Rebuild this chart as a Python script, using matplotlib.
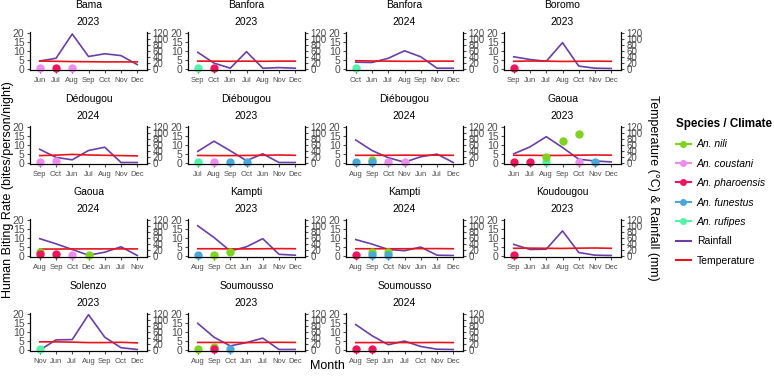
import matplotlib
matplotlib.use("Agg")
import matplotlib.pyplot as plt
from matplotlib.lines import Line2D

plt.rcParams["font.family"] = ["Liberation Sans", "DejaVu Sans"]

# one entry per facet: site, year, month order, rainfall (mm), temperature (degC)
SITES = ["Bama", "Banfora", "Banfora", "Boromo",
         "Dédougou", "Diébougou", "Diébougou", "Gaoua",
         "Gaoua", "Kampti", "Kampti", "Koudougou",
         "Solenzo", "Soumousso", "Soumousso"]
YEARS = ["2023", "2023", "2024", "2023",
         "2024", "2023", "2024", "2023",
         "2024", "2023", "2024", "2023",
         "2023", "2023", "2024"]
MONTHS = [
    ["Jun", "Jul", "Aug", "Sep", "Oct", "Nov", "Dec"],
    ["Sep", "Oct", "Jun", "Jul", "Aug", "Nov", "Dec"],
    ["Oct", "Jun", "Jul", "Aug", "Sep", "Nov", "Dec"],
    ["Sep", "Jun", "Jul", "Aug", "Oct", "Nov", "Dec"],
    ["Sep", "Oct", "Jun", "Jul", "Aug", "Nov", "Dec"],
    ["Jul", "Aug", "Sep", "Oct", "Jun", "Nov", "Dec"],
    ["Aug", "Sep", "Oct", "Nov", "Jun", "Jul", "Dec"],
    ["Jun", "Jul", "Aug", "Sep", "Oct", "Nov", "Dec"],
    ["Aug", "Sep", "Oct", "Dec", "Jun", "Jul", "Nov"],
    ["Aug", "Sep", "Oct", "Jun", "Jul", "Nov", "Dec"],
    ["Aug", "Sep", "Oct", "Nov", "Jun", "Jul", "Dec"],
    ["Sep", "Jun", "Jul", "Aug", "Oct", "Nov", "Dec"],
    ["Nov", "Jun", "Jul", "Aug", "Sep", "Oct", "Dec"],
    ["Aug", "Sep", "Oct", "Jun", "Jul", "Nov", "Dec"],
    ["Aug", "Sep", "Jun", "Jul", "Oct", "Nov", "Dec"],
]
RAINFALL = [
    [27, 36, 117, 42, 51, 45, 15],
    [56, 20, 3, 58, 3, 5, 3],
    [23, 22, 36, 61, 41, 3, 3],
    [41, 32, 26, 88, 10, 3, 2],
    [46, 19, 11, 42, 53, 2, 2],
    [39, 73, 41, 8, 31, 2, 2],
    [77, 42, 18, 3, 21, 30, 2],
    [31, 54, 88, 52, 13, 7, 4],
    [58, 41, 22, 3, 13, 31, 2],
    [101, 62, 17, 31, 58, 6, 3],
    [55, 40, 22, 18, 30, 3, 2],
    [39, 22, 23, 84, 12, 3, 2],
    [0, 34, 35, 118, 43, 8, 2],
    [89, 43, 14, 25, 40, 2, 2],
    [85, 48, 18, 30, 12, 3, 2],
]
TEMPERATURE = [
    [27.0, 26.0, 25.0, 24.6, 24.0, 24.0, 24.0],
    [26.5, 26.5, 26.0, 26.5, 26.0, 26.5, 26.5],
    [28.0, 27.0, 26.5, 26.0, 26.0, 26.5, 26.5],
    [26.0, 27.0, 26.5, 25.5, 26.0, 26.5, 26.0],
    [25.0, 26.5, 29.0, 27.0, 26.0, 25.0, 24.0],
    [25.5, 25.0, 25.0, 25.5, 26.0, 27.0, 26.0],
    [26.0, 26.0, 26.0, 26.5, 26.0, 26.5, 26.0],
    [26.0, 26.0, 25.5, 25.5, 26.5, 27.0, 26.5],
    [23.5, 23.5, 24.0, 24.0, 24.0, 24.0, 24.0],
    [24.5, 24.5, 24.0, 24.0, 24.5, 25.0, 24.5],
    [24.5, 24.5, 24.5, 24.5, 25.0, 25.0, 24.5],
    [26.0, 26.5, 26.0, 25.5, 26.5, 27.0, 26.0],
    [27.5, 27.5, 26.5, 25.0, 25.0, 26.0, 24.0],
    [25.5, 25.5, 25.5, 25.0, 25.5, 26.0, 25.5],
    [25.0, 25.0, 25.5, 25.0, 25.0, 25.5, 25.0],
]
# human biting rate points: (facet index, month, species, HBR)
HBR = [
    (0, "Jun", "An. coustani", 0.8), (0, "Jul", "An. pharoensis", 0.8),
    (0, "Aug", "An. coustani", 0.8),
    (1, "Sep", "An. rufipes", 0.8), (1, "Oct", "An. pharoensis", 0.8),
    (2, "Oct", "An. rufipes", 0.8),
    (3, "Sep", "An. pharoensis", 0.8),
    (4, "Sep", "An. coustani", 0.8), (4, "Oct", "An. coustani", 1.3),
    (5, "Jul", "An. rufipes", 0.8), (5, "Aug", "An. coustani", 0.8),
    (5, "Sep", "An. funestus", 0.8), (5, "Oct", "An. funestus", 0.8),
    (6, "Aug", "An. funestus", 0.8), (6, "Sep", "An. nili", 1.5),
    (6, "Sep", "An. funestus", 0.8), (6, "Oct", "An. coustani", 0.8),
    (6, "Nov", "An. coustani", 0.8),
    (7, "Jun", "An. pharoensis", 0.8), (7, "Jul", "An. pharoensis", 0.8),
    (7, "Aug", "An. rufipes", 0.8), (7, "Aug", "An. nili", 3.5),
    (7, "Sep", "An. nili", 12.3), (7, "Oct", "An. nili", 16.2),
    (7, "Oct", "An. coustani", 0.8), (7, "Nov", "An. funestus", 0.8),
    (8, "Aug", "An. nili", 2.5), (8, "Aug", "An. pharoensis", 0.9),
    (8, "Sep", "An. pharoensis", 0.9), (8, "Oct", "An. coustani", 0.8),
    (8, "Dec", "An. nili", 0.6),
    (9, "Aug", "An. funestus", 0.8), (9, "Sep", "An. nili", 0.8),
    (9, "Oct", "An. nili", 2.5),
    (10, "Aug", "An. pharoensis", 0.8), (10, "Sep", "An. nili", 2.0),
    (10, "Sep", "An. funestus", 0.8), (10, "Oct", "An. nili", 2.0),
    (10, "Oct", "An. funestus", 0.8),
    (11, "Sep", "An. pharoensis", 0.8),
    (12, "Nov", "An. rufipes", 0.8),
    (13, "Aug", "An. nili", 0.8), (13, "Sep", "An. nili", 1.5),
    (13, "Sep", "An. pharoensis", 0.8), (13, "Oct", "An. funestus", 0.8),
    (14, "Aug", "An. pharoensis", 0.8), (14, "Sep", "An. pharoensis", 0.8),
]

SPECIES = ["An. nili", "An. coustani", "An. pharoensis", "An. funestus", "An. rufipes"]
SP_COLORS = {"An. nili": "#7ED321", "An. coustani": "#EE8CEE",
             "An. pharoensis": "#F0145E", "An. funestus": "#4AA8D8",
             "An. rufipes": "#52F2A8"}
RAIN_COLOR = "#6A3FA8"
TEMP_COLOR = "#E8141C"
SCALE = 6  # secondary axis: mm / degC = 6 x left units
TXT = "#4d4d4d"

W, H = 774, 376
fig = plt.figure(figsize=(W / 100, H / 100), dpi=100)

lefts = [30, 188, 346, 504]
tops = [32, 126, 219, 313]
aw, ah = 117, 38

for i, (site, year) in enumerate(zip(SITES, YEARS)):
    r, c = divmod(i, 4)
    ax = fig.add_axes([lefts[c] / W, 1 - (tops[r] + ah) / H, aw / W, ah / H])
    x = list(range(len(MONTHS[i])))
    ax.plot(x, [v / SCALE for v in RAINFALL[i]], color=RAIN_COLOR, lw=1.2, zorder=3)
    ax.plot(x, [v / SCALE for v in TEMPERATURE[i]], color=TEMP_COLOR, lw=1.2, zorder=3)
    for k, m, sp, v in HBR:
        if k == i:
            ax.plot(MONTHS[i].index(m), v, "o", ms=5, color=SP_COLORS[sp],
                    zorder=4, clip_on=False)
    ax.set_xlim(-0.6, 6.6)
    ax.set_ylim(-0.5, 20.6)
    ax.set_xticks(x)
    ax.set_xticklabels(MONTHS[i], fontsize=5.5, color=TXT)
    ax.set_yticks([0, 5, 10, 15, 20])
    ax.tick_params(axis="y", labelsize=7.5, colors=TXT, length=2, pad=2)
    ax.tick_params(axis="x", length=2, pad=3, colors=TXT)
    ax.spines["top"].set_visible(False)
    for s in ("left", "bottom", "right"):
        ax.spines[s].set_linewidth(0.8)
    ax2 = ax.twinx()
    ax2.set_ylim(-0.5 * SCALE, 20.6 * SCALE)
    ax2.set_yticks(range(0, 121, 20))
    ax2.tick_params(axis="y", labelsize=7, colors=TXT, length=2, pad=2)
    ax2.spines["top"].set_visible(False)
    ax2.spines["right"].set_linewidth(0.8)
    ax.text(0.5, 1 + 27 / ah, site, transform=ax.transAxes,
            ha="center", va="center", fontsize=7.5)
    ax.text(0.5, 1 + 10 / ah, year, transform=ax.transAxes,
            ha="center", va="center", fontsize=7.5)

fig.text(8 / W, 1 - 190 / H, "Human Biting Rate (bites/person/night)", rotation=90,
         ha="center", va="center", fontsize=9)
fig.text(653 / W, 1 - 188 / H, "Temperature (°C) & Rainfall (mm)", rotation=-90,
         ha="center", va="center", fontsize=9)
fig.text(327 / W, 1 - 366 / H, "Month", ha="center", va="center", fontsize=9)

handles = [Line2D([], [], color=SP_COLORS[s], marker="o", ms=4, lw=1.5) for s in SPECIES]
handles += [Line2D([], [], color=RAIN_COLOR, lw=1.5), Line2D([], [], color=TEMP_COLOR, lw=1.5)]
labels = SPECIES + ["Rainfall", "Temperature"]
leg = fig.legend(handles, labels, loc="upper left", bbox_to_anchor=(676 / W, 1 - 118 / H),
                 frameon=False, fontsize=7.5, title="Species / Climate",
                 title_fontproperties={"weight": "bold", "size": 8.4},
                 handlelength=1.4, handletextpad=0.6, labelspacing=0.9,
                 borderpad=0, borderaxespad=0, alignment="left")
for t in leg.get_texts()[:5]:
    t.set_style("italic")

fig.savefig("out.png", dpi=100)
